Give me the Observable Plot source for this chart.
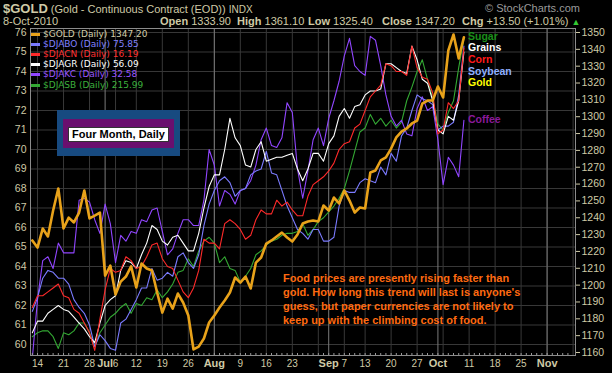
<!DOCTYPE html>
<html><head><meta charset="utf-8">
<script src="https://cdn.jsdelivr.net/npm/d3@7"></script>
<script src="https://cdn.jsdelivr.net/npm/@observablehq/plot@0.6"></script>
<style>
body{margin:0;background:#000;}
#wrap{position:relative;width:612px;height:373px;background:#000;overflow:hidden;font-family:"Liberation Sans",Arial,sans-serif;}
#wrap svg{position:absolute;left:0;top:0;}
.t{position:absolute;white-space:nowrap;line-height:1;}
.lg{position:absolute;left:43px;font-family:"DejaVu Sans",sans-serif;font-size:9px;line-height:9px;white-space:nowrap;}
.mk{position:absolute;left:31px;width:9px;height:3px;}
.lab{position:absolute;left:468px;font-weight:bold;font-size:10.5px;line-height:9px;white-space:nowrap;}
</style>
</head><body>
<div id="wrap"></div>
<script>
// Trading days from 11-Jun-2010 (index 0) to 8-Oct-2010 (index 83)
const gold = [1226.5,1222.3,1233.6,1228.9,1244.3,1257.4,1233.6,1240.1,1237.2,1243.1,1256.2,1239.6,1241.3,1243.1,1205.7,1211.6,1194.4,1202.1,1205.1,1211.1,1198.6,1212.8,1209.9,1208.7,1195.6,1183.7,1192.0,1186.1,1195.0,1189.7,1182.0,1161.8,1163.5,1168.3,1177.8,1182.0,1186.7,1190.9,1195.6,1204.5,1201.5,1205.1,1198.0,1213.4,1216.4,1224.7,1226.5,1228.9,1231.2,1228.3,1225.9,1230.1,1236.6,1237.8,1238.4,1237.8,1247.3,1244.3,1252.0,1248.5,1256.2,1250.2,1243.1,1246.1,1245.5,1266.9,1268.1,1274.0,1275.8,1281.1,1287.7,1291.2,1293.0,1296.0,1297.7,1307.8,1309.6,1309.6,1317.9,1311.4,1339.3,1348.8,1334.6,1347.2];
const djabo = [61.7,62.4,63.4,63.8,63.7,63.4,63.4,63.1,62.3,61.9,61.6,61.0,59.9,60.5,60.2,59.8,59.7,61.1,61.3,61.8,62.3,62.9,62.9,63.9,63.3,63.4,63.7,63.5,64.5,64.7,64.2,63.9,64.6,66.1,67.2,67.9,68.4,68.6,68.3,67.6,67.9,68.0,68.7,68.9,69.0,69.9,68.8,68.7,67.9,67.1,66.5,65.9,65.7,65.4,65.9,65.9,65.3,65.3,65.5,67.1,67.9,67.8,67.8,68.3,68.5,68.4,68.3,69.1,68.7,69.8,69.4,70.7,71.1,72.0,72.8,72.6,72.5,72.3,71.0,71.2,71.2,71.4,72.8,75.3];
const djacn = [61.9,62.5,62.5,62.7,62.9,63.1,62.5,62.4,61.8,61.6,61.1,60.6,59.7,61.3,62.8,63.9,63.7,63.8,64.5,64.3,63.9,64.0,64.5,65.1,65.2,64.4,64.0,63.9,63.3,62.7,62.4,62.9,63.8,65.4,65.2,65.2,64.9,66.2,66.4,66.2,65.9,65.4,65.6,66.4,66.9,66.7,66.7,67.4,67.1,67.3,66.9,66.6,66.6,67.6,68.2,68.4,68.6,68.9,69.3,70.0,70.3,70.4,71.1,71.3,72.0,72.7,73.0,73.3,74.4,74.3,74.0,74.0,73.8,75.3,74.2,73.7,73.6,72.9,70.8,71.0,72.4,72.1,72.5,75.2];
const djagr = [60.6,61.2,61.2,61.6,61.8,62.0,61.8,61.7,61.4,61.1,60.8,60.4,60.1,61.1,62.0,62.3,62.5,63.8,64.3,64.2,63.9,64.6,65.2,66.1,65.9,65.3,65.1,65.5,65.6,65.2,64.8,64.8,65.7,67.0,68.1,68.7,68.7,70.0,71.6,70.6,70.2,69.2,69.1,70.0,70.4,69.4,69.5,69.6,69.6,69.7,69.8,69.0,68.4,69.0,69.8,69.8,69.4,70.3,70.7,71.7,72.1,71.6,72.2,72.3,72.8,73.0,73.0,73.1,74.4,74.4,74.2,74.0,73.9,75.3,74.6,73.6,73.4,72.5,71.0,70.8,71.7,71.5,72.5,75.0];
const djakc = [59.3,62.3,64.3,64.5,63.9,65.2,64.7,64.7,64.7,67.4,67.5,67.3,66.4,65.7,67.2,66.2,64.2,65.6,65.3,65.8,65.7,66.4,66.3,66.9,67.0,65.8,64.6,64.9,65.7,66.4,66.4,66.1,66.1,67.4,70.0,69.2,67.1,67.9,67.7,67.2,67.9,68.0,68.4,69.2,70.5,71.1,70.2,70.1,70.6,72.4,71.9,69.0,67.5,68.9,70.5,71.1,70.2,71.6,72.5,73.5,74.8,75.7,74.3,74.0,73.8,75.8,75.6,74.3,72.8,71.7,71.2,71.5,70.8,70.7,72.1,72.7,72.0,72.2,70.5,68.2,69.6,69.2,68.6,71.5];
const djasb = [60.4,60.6,60.7,60.7,60.4,59.8,60.6,60.5,60.7,61.1,61.1,60.6,59.9,60.6,61.0,61.4,61.6,61.9,62.1,61.6,62.1,62.0,62.4,62.3,62.8,62.4,62.7,63.1,63.7,63.8,64.4,64.0,64.8,65.3,65.5,65.2,64.2,64.5,63.9,63.8,63.2,63.5,63.9,64.6,64.8,65.1,65.3,65.4,65.6,65.7,65.7,65.8,66.2,65.6,65.9,66.3,66.5,66.8,67.1,67.5,68.0,68.9,69.9,70.9,71.1,71.8,71.3,71.6,71.2,71.5,71.1,71.4,72.5,73.2,74.0,74.6,73.6,72.6,71.3,71.0,71.9,72.5,74.2,75.7];

const leftTicks = [60,61,62,63,64,65,66,67,68,69,70,71,72,73,74,75,76];
const rightTicks = [1160,1170,1180,1190,1200,1210,1220,1230,1240,1250,1260,1270,1280,1290,1300,1310,1320,1330,1340,1350];
const dayTickIdx = [1,6,11,16,20,25,30,40,45,50,60,64,69,74,84,89,94];
const dayTickLabels = ["14","21","28","6","12","19","26","9","16","23","7","13","20","27","11","18","25"];
const monthTickIdx = [14,35,57,78,99];
const monthTickLabels = ["Jul","Aug","Sep","Oct","Nov"];
const weekIdx = [1,6,11,16,20,25,30,35,40,45,50,55,60,64,69,74,79,84,89,94,99,104];
const allDays = d3.range(0,104);

const legendNames = ["$GOLD (Daily) 1347.20","$DJABO (Daily) 75.85","$DJACN (Daily) 16.19","$DJAGR (Daily) 56.09","$DJAKC (Daily) 32.58","$DJASB (Daily) 215.99"];
const legendText = ["#d2cda8","#8080ff","#ff3030","#ffffff","#9a55ff","#3cb03c"];
const lineColors = {gold:"#e8a21a", djabo:"#7b7bff", djacn:"#ff2a2a", djagr:"#ffffff", djakc:"#9146ff", djasb:"#33a833"};
const legendMarks = [lineColors.gold, lineColors.djabo, lineColors.djacn, lineColors.djagr, lineColors.djakc, lineColors.djasb];

// right (gold) axis is mapped onto left-axis units: 1350 -> 76, 1160 -> 59.59
const G_TOP = 1350, L_TOP = 76, G_BOT = 1160, L_BOT = 59.59;
const toLeft = g => L_TOP + (g - G_TOP) * (L_TOP - L_BOT) / (G_TOP - G_BOT);
const toGold = v => G_TOP + (v - L_TOP) * (G_TOP - G_BOT) / (L_TOP - L_BOT);

const tan = "#cfcaa6";
const plot = Plot.plot({
  width: 612, height: 373,
  marginTop: 28, marginBottom: 18, marginLeft: 30, marginRight: 37,
  style: {background: "#000", color: tan, fontFamily: "Liberation Sans, Arial, sans-serif", fontSize: "10.5px"},
  x: {type: "linear", domain: [-0.35, 104.46], axis: null},
  y: {domain: [59.436, 76.205], axis: null},
  marks: [
    Plot.ruleY(leftTicks, {stroke: "#383838"}),
    Plot.ruleX(weekIdx, {stroke: "#383838"}),
    Plot.ruleX(monthTickIdx, {stroke: "#7a7a7a"}),
    Plot.line(djasb, {x: (d, i) => i, y: d => d, stroke: lineColors.djasb, strokeWidth: 1.1, clip: true}),
    Plot.line(djakc, {x: (d, i) => i, y: d => d, stroke: lineColors.djakc, strokeWidth: 1.1, clip: true}),
    Plot.line(djabo, {x: (d, i) => i, y: d => d, stroke: lineColors.djabo, strokeWidth: 1.1, clip: true}),
    Plot.line(djagr, {x: (d, i) => i, y: d => d, stroke: lineColors.djagr, strokeWidth: 1.1, clip: true}),
    Plot.line(djacn, {x: (d, i) => i, y: d => d, stroke: lineColors.djacn, strokeWidth: 1.1, clip: true}),
    Plot.line(gold, {x: (d, i) => i, y: d => toLeft(d), stroke: lineColors.gold, strokeWidth: 2.6, clip: true}),
    Plot.axisX({ticks: allDays, anchor: "bottom", tickSize: -2, tickFormat: () => "", stroke: "#9a9a9a"}),
    Plot.frame({stroke: "#8c8c8c"}),
    Plot.axisY({ticks: leftTicks, anchor: "left", tickSize: 0, tickPadding: 4, tickFormat: d => `${d}`, fill: tan}),
    Plot.axisY({ticks: rightTicks.map(toLeft), anchor: "right", tickSize: 4, tickPadding: 2, stroke: tan, fill: tan, tickFormat: d => `${Math.round(toGold(d))}`}),
    Plot.text(dayTickIdx, {x: d => d, frameAnchor: "bottom", dy: 11, text: (d, i) => dayTickLabels[i], fill: tan, fontSize: 10}),
    Plot.text(monthTickIdx, {x: d => d, frameAnchor: "bottom", dy: 11, text: (d, i) => monthTickLabels[i], fill: tan, fontSize: 11, fontWeight: "bold"})
  ]
});
const wrap = document.getElementById("wrap");
wrap.appendChild(plot);

function add(html, css, cls) {
  const d = document.createElement("div");
  d.className = cls || "t";
  d.innerHTML = html;
  Object.assign(d.style, css);
  wrap.appendChild(d);
  return d;
}
// header
add('<b style="font-size:13px">$GOLD</b> (Gold - Continuous Contract (EOD)) <span style="font-size:10px">INDX</span>', {left: "3px", top: "2px", color: tan, fontSize: "11px"});
add('8-Oct-2010', {left: "3px", top: "16px", color: tan, fontSize: "11px"});
const stats = [["Open","1333.90",160],["High","1361.10",237],["Low","1325.40",308],["Close","1347.20",382]];
stats.forEach(s => add('<b>' + s[0] + '</b> ' + s[1], {left: s[2] + "px", top: "16px", color: tan, fontSize: "11px"}));
add('<b>Chg</b> +13.50 (+1.01%) <span style="color:#33cc33;font-size:9px">&#9650;</span>', {left: "462px", top: "16px", color: tan, fontSize: "11px"});
add('&copy; StockCharts.com', {left: "485px", top: "3px", color: "#9a9a9a", fontSize: "11px"});

// legend
const rowY = [34, 44.2, 54.4, 64.6, 74.8, 85];
legendNames.forEach((n, i) => {
  add('', {top: (rowY[i] - 1.5) + "px", background: legendMarks[i]}, "mk");
  add(n, {top: (rowY[i] - 4.5) + "px", color: legendText[i]}, "lg");
});

// Four Month box
add('', {left: "57px", top: "110px", width: "123px", height: "46px", background: "#174a80"});
add('', {left: "63px", top: "119px", width: "111px", height: "29px", background: "#6a0f6e"});
add('Four Month, Daily', {left: "68px", top: "127px", width: "99px", height: "13px", background: "#fff", border: "1px solid #333", color: "#000", fontWeight: "bold", fontSize: "11px", lineHeight: "13px", textAlign: "center"});

// series labels
const labels = [["Sugar","#1a8f1a",36],["Grains","#ffffff",47],["Corn","#ff1a1a",59],["Soybean","#8fb0ff",71],["Gold","#ffff00",82.5],["Coffee","#8b1a9b",119]];
labels.forEach(l => add(l[0], {top: (l[2] - 4.5) + "px", color: l[1]}, "lab"));

// commentary
add('Food prices are presently rising faster than<br>gold. How long this trend will last is anyone\'s<br>guess, but paper currencies are not likely to<br>keep up with the climbing cost of food.',
  {left: "283px", top: "271px", color: "#ff6a10", fontWeight: "bold", fontSize: "11px", lineHeight: "14px"});
</script>
</body></html>
